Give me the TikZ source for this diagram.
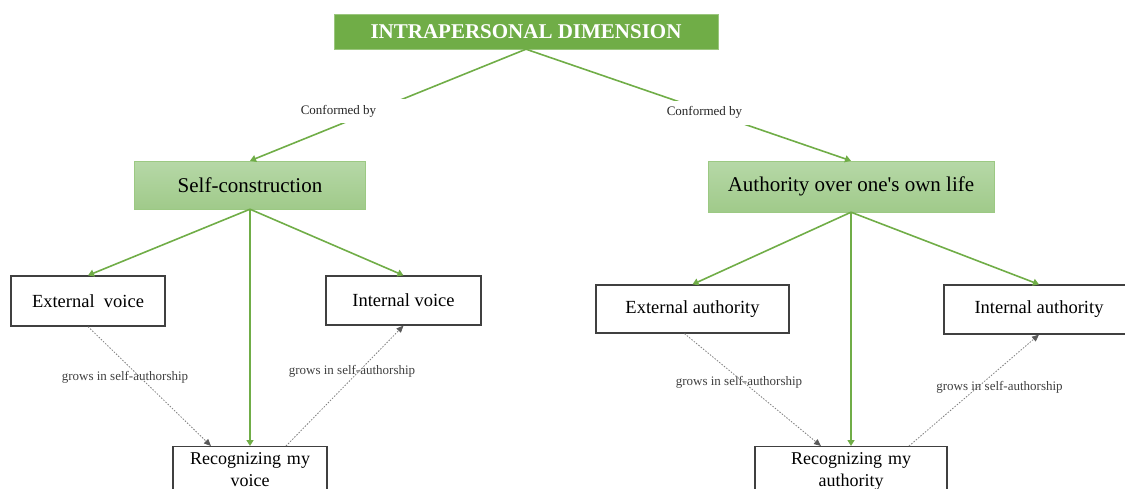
\documentclass[tikz,border=0pt]{standalone}
\usepackage{fontspec}
\setmainfont{Liberation Serif}
\usetikzlibrary{arrows.meta}
\definecolor{dimgreen}{HTML}{70AD47}
\definecolor{partgreenA}{HTML}{B6D8A7}
\definecolor{partgreenB}{HTML}{A0CA8A}
\definecolor{partedge}{HTML}{9CC983}
\definecolor{boxgray}{HTML}{404040}
\definecolor{dotgray}{HTML}{7F7F7F}
\definecolor{tipgray}{HTML}{595959}
\tikzset{
  dimbox/.style={fill=dimgreen, draw=dimgreen!70!white, text=white, inner sep=0pt,
    font=\fontsize{21}{25}\selectfont\bfseries},
  partbox/.style={top color=partgreenA, bottom color=partgreenB, draw=partedge, inner sep=0pt,
    font=\fontsize{21}{25}\selectfont},
  itembox/.style={draw=boxgray, line width=1.2pt, fill=white, inner sep=0pt,
    font=\fontsize{18.5}{22}\selectfont},
  goalbox/.style={draw=boxgray, line width=1.2pt, fill=white, inner xsep=0pt, inner ysep=6pt,
    anchor=north, align=center, font=\fontsize{18}{22}\selectfont},
  conftxt/.style={fill=white, text=black!85, inner sep=0pt, font=\fontsize{13}{15}\selectfont},
  growtxt/.style={fill=white, text=boxgray, inner sep=0pt, font=\fontsize{13}{15}\selectfont},
  greenarrow/.style={draw=dimgreen, line width=1.6pt, -{Triangle[length=6pt,width=7pt]}},
  dotarrow/.style={draw=dotgray, line width=0.8pt, dash pattern=on 1.5pt off 1.5pt,
    -{Triangle[length=7pt,width=6pt,fill=tipgray,color=tipgray]}}
}
\newcommand{\conf}[3]{\node[conftxt, minimum width=138pt, minimum height=24pt] (#1) at (#2,#3) {Conformed by};}
\newcommand{\grow}[3]{\node[growtxt, minimum width=148pt, minimum height=23pt] (#1) at (#2,#3) {grows in self-authorship};}
\begin{document}
\begin{tikzpicture}[x=1pt, y=-1pt]
        \useasboundingbox (0,0) rectangle (1125,488);
        % top
        \node[dimbox, minimum width=384pt, minimum height=35pt] (dim) at (526,31.5) {INTRAPERSONAL DIMENSION};
        % parts
        \node[partbox, minimum width=231pt, minimum height=48pt] (self) at (250,185) {Self-construction};
        \node[partbox, minimum width=286pt, minimum height=51pt] (auth) at (851,186.5) {Authority over one\textquotesingle s own life};
        % left branch
        \node[itembox, minimum width=154pt, minimum height=50pt] (extv) at (88,301) {External\hspace{0.25em} voice};
        \node[itembox, minimum width=155pt, minimum height=49pt] (intv) at (403.5,300.5) {Internal voice};
        \node[goalbox, text width=154pt] (myv) at (250,446) {Recognizing my\\voice};
        % right branch
        \node[itembox, minimum width=193pt, minimum height=48pt] (exta) at (692.5,309) {External authority};
        \node[itembox, minimum width=190pt, minimum height=49pt] (inta) at (1039,309.5) {Internal authority};
        \node[goalbox, text width=192pt] (mya) at (851,446) {Recognizing my\\authority};
        % green arrows
        \draw[greenarrow] (dim.south) -- (self.north);
        \draw[greenarrow] (dim.south) -- (auth.north);
        \draw[greenarrow] (self.south) -- (extv.north);
        \draw[greenarrow] (self.south) -- (intv.north);
        \draw[greenarrow] (self.south) -- (myv.north);
        \draw[greenarrow] (auth.south) -- (exta.north);
        \draw[greenarrow] (auth.south) -- (inta.north);
        \draw[greenarrow] (auth.south) -- (mya.north);
        % labels
        \conf{confl}{338.5}{111}
        \conf{confr}{704.5}{112.5}
        \grow{growl}{125}{377}
        \grow{growm}{352}{371}
        \grow{growr}{739}{382}
        \grow{growrr}{999.5}{387}
        % dotted arrows
        \draw[dotarrow] (extv.south) -- ([xshift=-39pt]myv.north);
        \draw[dotarrow] ([xshift=36pt]myv.north) -- (intv.south);
        \draw[dotarrow] ([xshift=-8pt]exta.south) -- ([xshift=-30pt]mya.north);
        \draw[dotarrow] ([xshift=58pt]mya.north) -- (inta.south);
        \end{tikzpicture}
\end{document}
